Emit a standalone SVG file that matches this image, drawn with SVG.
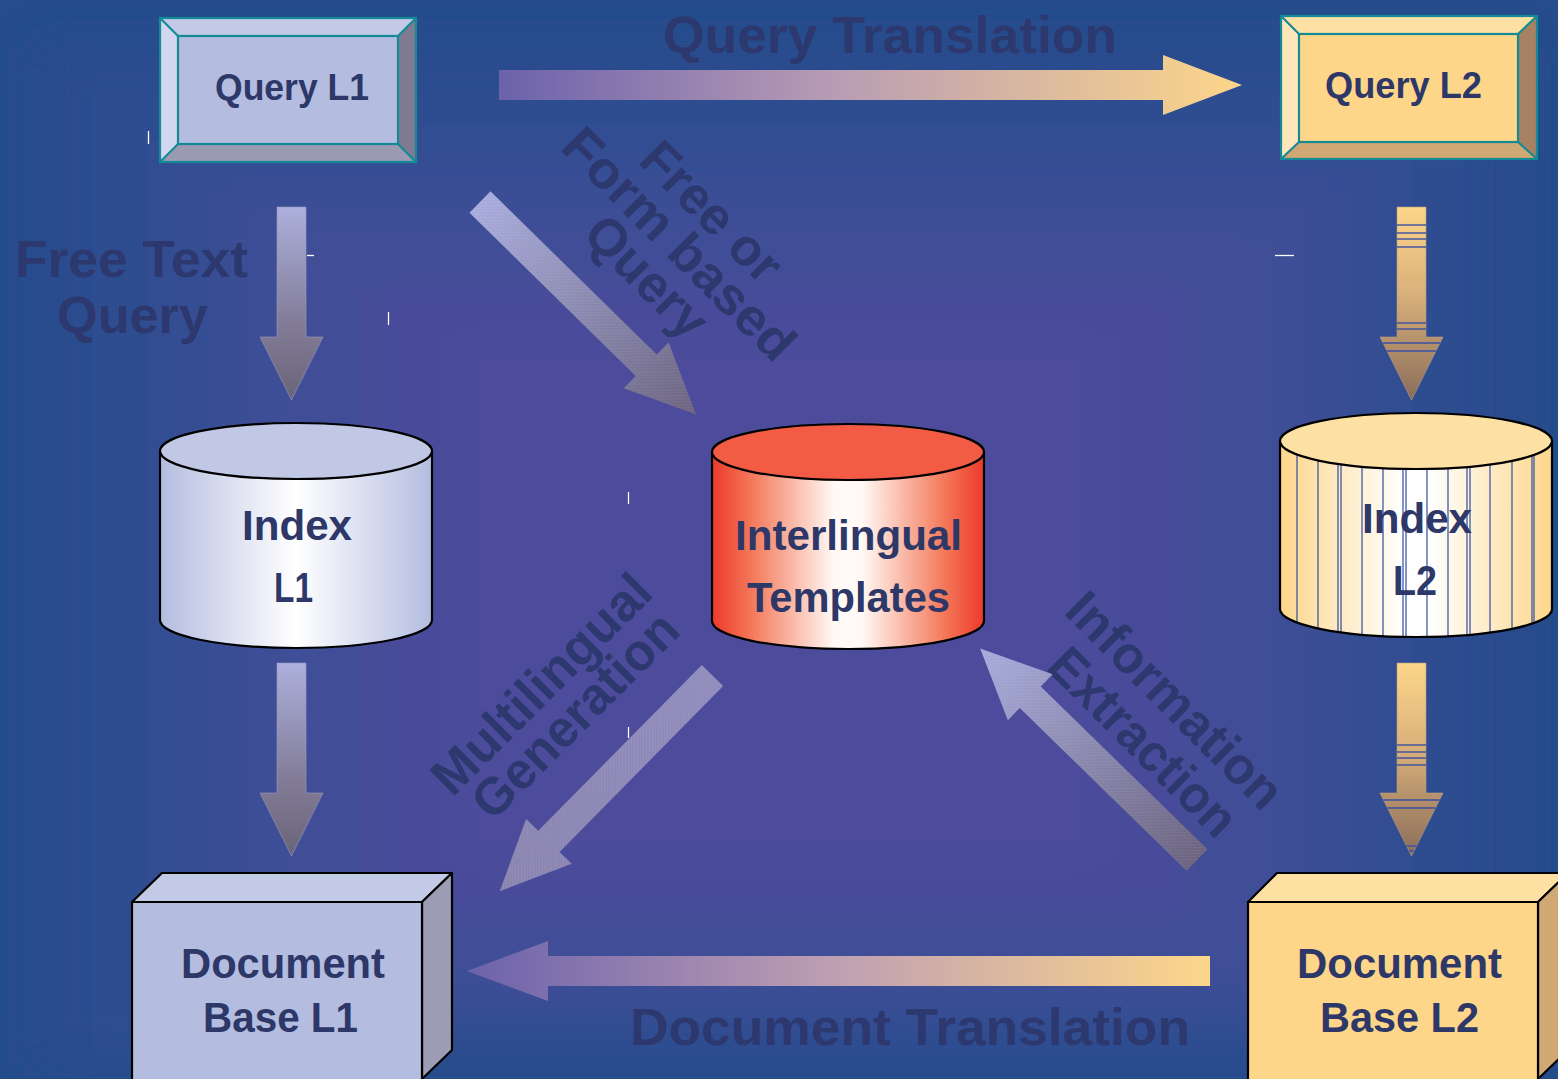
<svg xmlns="http://www.w3.org/2000/svg" width="1558" height="1079" viewBox="0 0 1558 1079">
  <defs>
    <filter id="soft" x="-5%" y="-5%" width="110%" height="110%">
      <feGaussianBlur stdDeviation="22"/>
    </filter>
    <!-- horizontal arrows: purple to sand -->
    <linearGradient id="gQT" gradientUnits="userSpaceOnUse" x1="499" y1="0" x2="1242" y2="0">
      <stop offset="0" stop-color="#6c62ac"/>
      <stop offset="0.45" stop-color="#b89cb4"/>
      <stop offset="1" stop-color="#fdd68a"/>
    </linearGradient>
    <linearGradient id="gDT" gradientUnits="userSpaceOnUse" x1="467" y1="0" x2="1210" y2="0">
      <stop offset="0" stop-color="#6c62ac"/>
      <stop offset="0.5" stop-color="#bfa0b2"/>
      <stop offset="1" stop-color="#fdd68a"/>
    </linearGradient>
    <!-- vertical arrows -->
    <linearGradient id="gBlueDown" x1="0" y1="0" x2="0" y2="1">
      <stop offset="0" stop-color="#acb0dc"/>
      <stop offset="0.6" stop-color="#827c98"/>
      <stop offset="1" stop-color="#6a6478"/>
    </linearGradient>
    <linearGradient id="gSandDown" x1="0" y1="0" x2="0" y2="1">
      <stop offset="0" stop-color="#fdd68a"/>
      <stop offset="0.45" stop-color="#d8b07a"/>
      <stop offset="1" stop-color="#8a6c5a"/>
    </linearGradient>
    <!-- diagonal arrows, along local x axis -->
    <linearGradient id="gDiagOut" gradientUnits="userSpaceOnUse" x1="0" y1="0" x2="303" y2="0">
      <stop offset="0" stop-color="#a8acdc"/>
      <stop offset="1" stop-color="#6c6480"/>
    </linearGradient>
    <linearGradient id="gDiagIn" gradientUnits="userSpaceOnUse" x1="0" y1="0" x2="303" y2="0">
      <stop offset="0" stop-color="#6c6480"/>
      <stop offset="1" stop-color="#a8acdc"/>
    </linearGradient>
    <linearGradient id="gDiagGen" gradientUnits="userSpaceOnUse" x1="0" y1="0" x2="303" y2="0">
      <stop offset="0" stop-color="#908cbc"/>
      <stop offset="1" stop-color="#8a84b0"/>
    </linearGradient>
    <pattern id="hatch" width="3" height="3" patternUnits="userSpaceOnUse" patternTransform="rotate(45)">
      <rect width="1" height="3" fill="#ffffff" opacity="0.06"/>
    </pattern>
    <!-- cylinder sides -->
    <linearGradient id="cylBlue" x1="0" y1="0" x2="1" y2="0">
      <stop offset="0" stop-color="#b4bde0"/>
      <stop offset="0.5" stop-color="#ffffff"/>
      <stop offset="1" stop-color="#b4bde0"/>
    </linearGradient>
    <linearGradient id="cylRed" x1="0" y1="0" x2="1" y2="0">
      <stop offset="0" stop-color="#ec3a2a"/>
      <stop offset="0.15" stop-color="#f47a5c"/>
      <stop offset="0.45" stop-color="#fffaf6"/>
      <stop offset="0.55" stop-color="#fffaf6"/>
      <stop offset="0.85" stop-color="#f47a5c"/>
      <stop offset="1" stop-color="#ec3a2a"/>
    </linearGradient>
    <linearGradient id="cylSand" x1="0" y1="0" x2="1" y2="0">
      <stop offset="0" stop-color="#fdd68a"/>
      <stop offset="0.45" stop-color="#ffffff"/>
      <stop offset="0.55" stop-color="#ffffff"/>
      <stop offset="1" stop-color="#fdd68a"/>
    </linearGradient>
    <clipPath id="clipIdx2">
      <path d="M1280,441 V609 A136,28 0 0 0 1552,609 V441 Z"/>
    </clipPath>
    <path id="diagArrow" d="M0,-15 L233,-15 L233,-32 L303,0 L233,32 L233,15 L0,15 Z"/>
  </defs>
  <style>
    .lbl { font-family: "Liberation Sans", Arial, sans-serif; font-weight: bold; fill: #2d3768; }
    .bg { font-family: "Liberation Sans", Arial, sans-serif; font-weight: bold; fill: #2c386e; font-size: 52px; }
    .edge { stroke: #000000; stroke-width: 2.2; stroke-linejoin: round; }
    .bevel { stroke: #138a96; stroke-width: 2.2; stroke-linejoin: miter; }
    .tick { stroke: #ffffff; stroke-width: 1.3; }
    .band { stroke: #3a4fa2; stroke-width: 1.4; }
  </style>

  <!-- backdrop: stepped blue-to-violet field -->
  <rect width="1558" height="1079" fill="#254c8c"/>
  <g filter="url(#soft)">
    <rect x="37" y="48" width="1484" height="1016" fill="#294c8e"/>
    <rect x="93" y="88" width="1372" height="961" fill="#2f4d91"/>
    <rect x="160" y="140" width="1238" height="889" fill="#364d93"/>
    <rect x="230" y="190" width="1098" height="809" fill="#3c4d96"/>
    <rect x="300" y="240" width="958" height="719" fill="#434d98"/>
    <rect x="380" y="290" width="798" height="619" fill="#494c9a"/>
    <rect x="460" y="340" width="638" height="519" fill="#4e4c9c"/>
  </g>

  <!-- flow labels -->
  <g id="labels">
    <text class="bg" x="663" y="53" textLength="454" lengthAdjust="spacingAndGlyphs">Query Translation</text>
    <text class="bg" x="15" y="277" textLength="233" lengthAdjust="spacingAndGlyphs">Free Text</text>
    <text class="bg" x="57" y="333" textLength="151" lengthAdjust="spacingAndGlyphs">Query</text>
    <text class="bg" x="630" y="1045" textLength="560" lengthAdjust="spacingAndGlyphs">Document Translation</text>
    <g transform="rotate(45)">
      <text class="bg" x="653" y="-336" text-anchor="middle" textLength="176" lengthAdjust="spacingAndGlyphs">Free or</text>
      <text class="bg" x="653" y="-290" text-anchor="middle" textLength="305" lengthAdjust="spacingAndGlyphs">Form based</text>
      <text class="bg" x="653" y="-244" text-anchor="middle" textLength="150" lengthAdjust="spacingAndGlyphs">Query</text>
      <text class="bg" x="1326" y="-318" text-anchor="middle" textLength="283" lengthAdjust="spacingAndGlyphs">Information</text>
      <text class="bg" x="1333" y="-266" text-anchor="middle" textLength="243" lengthAdjust="spacingAndGlyphs">Extraction</text>
    </g>
    <g transform="rotate(-45)">
      <text class="bg" x="-101" y="884" text-anchor="middle" textLength="287" lengthAdjust="spacingAndGlyphs">Multilingual</text>
      <text class="bg" x="-99" y="930" text-anchor="middle" textLength="268" lengthAdjust="spacingAndGlyphs">Generation</text>
    </g>
  </g>

  <!-- connectors -->
  <g id="connectors">
    <path d="M499,70 H1163 V55 L1242,85 L1163,115 V100 H499 Z" fill="url(#gQT)"/>
    <path d="M1210,956 H548 V941 L467,971 L548,1001 V986 H1210 Z" fill="url(#gDT)"/>

    <path d="M277,207 H306 V337 H323 L291.5,400 L260,337 H277 Z" fill="url(#gBlueDown)" stroke="#9a9cc4" stroke-width="0.6"/>
    <path d="M277,663 H306 V793 H323 L291.5,856 L260,793 H277 Z" fill="url(#gBlueDown)" stroke="#9a9cc4" stroke-width="0.6"/>

    <g id="sand-arrow-1">
      <path d="M1397,207 H1426 V337 H1443 L1411.5,400 L1380,337 H1397 Z" fill="url(#gSandDown)" stroke="#b8a080" stroke-width="0.6"/>
      <line class="band" x1="1397" y1="225" x2="1426" y2="225"/>
      <line class="band" x1="1397" y1="233" x2="1426" y2="233"/>
      <line class="band" x1="1397" y1="239" x2="1426" y2="239"/>
      <line class="band" x1="1397" y1="247" x2="1426" y2="247"/>
      <line class="band" x1="1397" y1="323" x2="1426" y2="323"/>
      <line class="band" x1="1397" y1="329" x2="1426" y2="329"/>
      <line class="band" x1="1383" y1="343" x2="1440" y2="343"/>
      <line class="band" x1="1387" y1="351" x2="1436" y2="351"/>
    </g>
    <g id="sand-arrow-2">
      <path d="M1397,663 H1426 V793 H1443 L1411.5,856 L1380,793 H1397 Z" fill="url(#gSandDown)" stroke="#b8a080" stroke-width="0.6"/>
      <line class="band" x1="1397" y1="745" x2="1426" y2="745"/>
      <line class="band" x1="1397" y1="752" x2="1426" y2="752"/>
      <line class="band" x1="1397" y1="758" x2="1426" y2="758"/>
      <line class="band" x1="1397" y1="765" x2="1426" y2="765"/>
      <line class="band" x1="1383.5" y1="800" x2="1439.5" y2="800"/>
      <line class="band" x1="1387.5" y1="808" x2="1435.5" y2="808"/>
      <line class="band" x1="1406.5" y1="846" x2="1416.5" y2="846"/>
      <line class="band" x1="1409" y1="851" x2="1414" y2="851"/>
    </g>

    <g transform="translate(480,202) rotate(44.5)">
      <use href="#diagArrow" fill="url(#gDiagOut)"/>
      <use href="#diagArrow" fill="url(#hatch)"/>
    </g>
    <g transform="translate(712.5,675.5) rotate(134.6)">
      <use href="#diagArrow" fill="url(#gDiagGen)"/>
      <use href="#diagArrow" fill="url(#hatch)"/>
    </g>
    <g transform="translate(1197,860) rotate(-135.7)">
      <use href="#diagArrow" fill="url(#gDiagIn)"/>
      <use href="#diagArrow" fill="url(#hatch)"/>
    </g>
  </g>

  <!-- Query L1: bevelled button -->
  <g id="query-l1">
    <rect x="160" y="18" width="256" height="144" fill="#b4bde0"/>
    <polygon points="160,18 416,18 398,36 178,36" fill="#c3c9e6"/>
    <polygon points="160,18 178,36 178,144 160,162" fill="#d2d6ee"/>
    <polygon points="416,18 416,162 398,144 398,36" fill="#7e7a92"/>
    <polygon points="160,162 178,144 398,144 416,162" fill="#9a9ab2"/>
    <g class="bevel" fill="none">
      <rect x="160" y="18" width="256" height="144"/>
      <rect x="178" y="36" width="220" height="108"/>
      <line x1="160" y1="18" x2="178" y2="36"/>
      <line x1="416" y1="18" x2="398" y2="36"/>
      <line x1="160" y1="162" x2="178" y2="144"/>
      <line x1="416" y1="162" x2="398" y2="144"/>
    </g>
    <text class="lbl" x="215" y="100" font-size="36" textLength="154" lengthAdjust="spacingAndGlyphs">Query L1</text>
  </g>

  <!-- Query L2: bevelled button -->
  <g id="query-l2">
    <rect x="1281" y="16" width="256" height="143" fill="#fdd68a"/>
    <polygon points="1281,16 1537,16 1518,34 1299,34" fill="#fde0a4"/>
    <polygon points="1281,16 1299,34 1299,142 1281,159" fill="#fee6ba"/>
    <polygon points="1537,16 1537,159 1518,142 1518,34" fill="#a68262"/>
    <polygon points="1281,159 1299,142 1518,142 1537,159" fill="#cfa874"/>
    <g class="bevel" fill="none">
      <rect x="1281" y="16" width="256" height="143"/>
      <rect x="1299" y="34" width="219" height="108"/>
      <line x1="1281" y1="16" x2="1299" y2="34"/>
      <line x1="1537" y1="16" x2="1518" y2="34"/>
      <line x1="1281" y1="159" x2="1299" y2="142"/>
      <line x1="1537" y1="159" x2="1518" y2="142"/>
    </g>
    <text class="lbl" x="1325" y="98" font-size="36" textLength="157" lengthAdjust="spacingAndGlyphs">Query L2</text>
  </g>

  <!-- Index L1: cylinder -->
  <g id="index-l1">
    <path class="edge" d="M160,451 V620 A136,28 0 0 0 432,620 V451 Z" fill="url(#cylBlue)"/>
    <ellipse class="edge" cx="296" cy="451" rx="136" ry="28" fill="#c1c8e6"/>
    <text class="lbl" x="297" y="540" font-size="42" text-anchor="middle" textLength="110" lengthAdjust="spacingAndGlyphs">Index</text>
    <text class="lbl" x="293.5" y="602" font-size="42" text-anchor="middle" textLength="39" lengthAdjust="spacingAndGlyphs">L1</text>
  </g>

  <!-- Interlingual Templates: cylinder -->
  <g id="interlingual">
    <path class="edge" d="M712,452 V621 A136,28 0 0 0 984,621 V452 Z" fill="url(#cylRed)"/>
    <ellipse class="edge" cx="848" cy="452" rx="136" ry="28" fill="#f25c44"/>
    <text class="lbl" x="848.5" y="550" font-size="42" text-anchor="middle" textLength="227" lengthAdjust="spacingAndGlyphs">Interlingual</text>
    <text class="lbl" x="848.5" y="612" font-size="42" text-anchor="middle" textLength="203" lengthAdjust="spacingAndGlyphs">Templates</text>
  </g>

  <!-- Index L2: striped cylinder -->
  <g id="index-l2">
    <path d="M1280,441 V609 A136,28 0 0 0 1552,609 V441 Z" fill="url(#cylSand)"/>
    <g clip-path="url(#clipIdx2)" stroke="#2f4ca0" stroke-width="1.2">
      <line x1="1297" y1="413" x2="1297" y2="640"/>
      <line x1="1318" y1="413" x2="1318" y2="640"/>
      <line x1="1338" y1="413" x2="1338" y2="640"/>
      <line x1="1341" y1="413" x2="1341" y2="640"/>
      <line x1="1362" y1="413" x2="1362" y2="640"/>
      <line x1="1383" y1="413" x2="1383" y2="640"/>
      <line x1="1403" y1="413" x2="1403" y2="640"/>
      <line x1="1406" y1="413" x2="1406" y2="640"/>
      <line x1="1427" y1="413" x2="1427" y2="640"/>
      <line x1="1448" y1="413" x2="1448" y2="640"/>
      <line x1="1467" y1="413" x2="1467" y2="640"/>
      <line x1="1470" y1="413" x2="1470" y2="640"/>
      <line x1="1490" y1="413" x2="1490" y2="640"/>
      <line x1="1512" y1="413" x2="1512" y2="640"/>
      <line x1="1532" y1="413" x2="1532" y2="640"/>
      <line x1="1534" y1="413" x2="1534" y2="640"/>
    </g>
    <path class="edge" d="M1280,441 V609 A136,28 0 0 0 1552,609 V441" fill="none"/>
    <ellipse class="edge" cx="1416" cy="441" rx="136" ry="28" fill="#fde0a4"/>
    <text class="lbl" x="1417" y="533" font-size="42" text-anchor="middle" textLength="110" lengthAdjust="spacingAndGlyphs">Index</text>
    <text class="lbl" x="1415" y="595" font-size="42" text-anchor="middle" textLength="44" lengthAdjust="spacingAndGlyphs">L2</text>
  </g>

  <!-- Document Base L1: box -->
  <g id="docbase-l1">
    <polygon class="edge" points="132,902 162,873 452,873 422,902" fill="#c3cae6"/>
    <polygon class="edge" points="422,902 452,873 452,1050 422,1079" fill="#9c9cb4"/>
    <rect class="edge" x="132" y="902" width="290" height="180" fill="#b4bde0"/>
    <text class="lbl" x="283" y="978" font-size="42" text-anchor="middle" textLength="204" lengthAdjust="spacingAndGlyphs">Document</text>
    <text class="lbl" x="280.5" y="1032" font-size="42" text-anchor="middle" textLength="155" lengthAdjust="spacingAndGlyphs">Base L1</text>
  </g>

  <!-- Document Base L2: box -->
  <g id="docbase-l2">
    <polygon class="edge" points="1248,902 1277,873 1568,873 1538,902" fill="#fde0a2"/>
    <polygon class="edge" points="1538,902 1568,873 1568,1050 1538,1079" fill="#cfa874"/>
    <rect class="edge" x="1248" y="902" width="290" height="180" fill="#fdd68a"/>
    <text class="lbl" x="1399.5" y="978" font-size="42" text-anchor="middle" textLength="205" lengthAdjust="spacingAndGlyphs">Document</text>
    <text class="lbl" x="1399.5" y="1032" font-size="42" text-anchor="middle" textLength="159" lengthAdjust="spacingAndGlyphs">Base L2</text>
  </g>

  <!-- stray cursor marks -->
  <g id="marks">
    <line class="tick" x1="148.5" y1="131" x2="148.5" y2="144"/>
    <line class="tick" x1="307" y1="255.5" x2="314" y2="255.5"/>
    <line class="tick" x1="388.5" y1="312" x2="388.5" y2="325"/>
    <line class="tick" x1="1275" y1="255.5" x2="1294" y2="255.5"/>
    <line class="tick" x1="628.5" y1="492" x2="628.5" y2="504"/>
    <line class="tick" x1="628.5" y1="727" x2="628.5" y2="738"/>
  </g>
</svg>
